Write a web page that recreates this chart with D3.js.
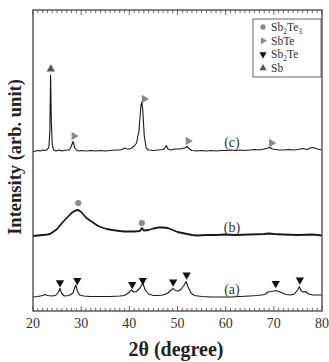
<!DOCTYPE html>
<html>
<head>
<meta charset="utf-8">
<script src="https://cdn.jsdelivr.net/npm/d3@7"></script>
<style>
body { margin: 0; background: #fff; }
</style>
</head>
<body>
<div id="chart"></div>
<script>
// XRD patterns (2theta in degree, intensity in arb. units)
var twoThetaC = [20, 20.5, 21, 21.5, 22, 22.5, 23, 23.3, 23.5, 23.65, 23.8, 24, 24.3, 24.8, 25.5, 26, 26.5, 27, 27.5, 27.9, 28.3, 28.7, 29, 29.5, 30, 31, 32, 33, 34, 35, 36, 37, 38, 38.5, 39, 39.5, 40, 40.5, 41, 41.5, 42, 42.4, 42.6, 42.8, 43.1, 43.5, 44, 45, 46, 47, 47.4, 47.7, 48, 48.5, 49.5, 50.5, 51.5, 52, 52.5, 53, 54, 55, 56, 57, 58, 59, 60, 61, 62, 63, 64, 65, 66, 67, 68, 68.8, 69.2, 69.7, 70.5, 71, 72, 73, 74, 75, 76, 76.5, 77, 77.5, 78, 78.5, 79, 79.5, 80];
var intensityC = [159, 160, 160.5, 160, 161, 160.5, 161.5, 164, 180, 236, 190, 166, 161, 160, 161, 160, 160.5, 161, 161, 164, 169.5, 163, 161, 160, 160.5, 160, 160.5, 160, 160.5, 160, 160.5, 161, 161, 161.5, 163, 162, 162, 163, 165, 168, 180, 205, 209, 200, 175, 163, 161, 160.5, 161, 161.5, 163, 165.5, 162, 161, 162, 162, 163, 164.5, 162, 160.5, 160, 160.5, 160, 160.5, 160, 160.5, 160.5, 161, 160.5, 161, 160.5, 161, 161.5, 161, 162, 163, 163.5, 162, 161.5, 161, 161, 161.5, 161, 161.5, 162.5, 162, 161.5, 163, 163.5, 163, 162, 161.5, 161];

var twoThetaB = [20, 21, 22, 23, 23.5, 24, 25, 26.2, 27, 28, 28.8, 29.4, 30, 31.1, 32, 33.2, 34, 35.3, 36.5, 38, 39, 40, 41, 42.2, 42.6, 43, 44, 45, 46, 47, 48, 49, 50, 51, 52, 53, 54, 56, 58, 60, 62, 65, 68, 69, 70, 72, 75, 78, 80];
var intensityB = [75, 75.5, 76, 76.5, 77, 78.5, 82, 89, 93, 98, 100.5, 101, 99, 93, 90, 86, 84, 82, 81, 80, 79.5, 79.5, 79.5, 80, 83, 80.5, 81, 82.5, 83.5, 83.5, 83, 81, 79, 78, 77, 76, 75.5, 76, 76, 76.5, 76, 76.5, 77, 77.5, 77, 76.5, 76, 76.5, 75.5];

var twoThetaA = [20, 21, 22, 22.5, 23, 24, 24.8, 25.3, 25.6, 25.9, 26.5, 27.5, 28.3, 28.7, 28.9, 29.2, 29.7, 30.5, 32, 34, 36, 38, 39, 39.8, 40.3, 40.5, 40.9, 41.5, 42.2, 42.8, 43.3, 44, 45, 46, 47, 48, 48.7, 49.1, 49.5, 50.2, 50.8, 51.4, 51.8, 52.2, 52.8, 53.5, 55, 57, 59, 61, 63, 65, 66.5, 67.5, 68.3, 68.8, 69.5, 70, 70.4, 71, 71.8, 72.5, 73.5, 74.3, 74.9, 75.3, 75.7, 76.2, 76.6, 77, 78, 79, 80];
var intensityA = [14, 14.5, 15.5, 16.5, 15.5, 15, 16, 19, 22.7, 18, 15, 15.5, 18, 24, 26, 20, 16, 15, 14.5, 14.5, 14.5, 15, 15.5, 18, 20.5, 21, 19, 19.5, 23, 27.7, 21, 17, 15.5, 15.5, 16, 18, 21, 22.7, 20.5, 20, 22, 26, 29.5, 24, 18, 15.5, 14.5, 14, 14, 14, 14.5, 15, 15.5, 16, 17, 19, 19.5, 20, 20.5, 19.5, 18, 16.5, 16, 17, 21, 24.3, 20, 19, 19.5, 17.5, 16, 16, 16];

// phase markers (position, height)
var sb2te3X = [29.4, 42.6];
var sb2te3Y = [108, 88];
var sbteX = [28.5, 43.1, 52.2, 69.5];
var sbteY = [175, 212, 170, 168];
var sb2teX = [25.6, 29.2, 40.6, 42.8, 49.1, 51.9, 70.4, 75.4];
var sb2teY = [28.3, 30.5, 26.5, 30.5, 29, 36, 27.5, 31];
var sbX = [23.7];
var sbY = [242];

var curveLabels = ["(c)", "(b)", "(a)"];
var legendNames = ["Sb2Te3", "SbTe", "Sb2Te", "Sb"];
var xTicks = [20, 30, 40, 50, 60, 70, 80];

var FONT = "'Liberation Serif', 'DejaVu Serif', serif";

var W = 329, H = 362;
var margin = {top: 10, right: 7, bottom: 51, left: 33};
var width = W - margin.left - margin.right,
	height = H - margin.top - margin.bottom;

var svg = d3.select("#chart")
	.append("svg")
	.attr("width", W)
	.attr("height", H)
	.attr("font-family", FONT);

var g = svg.append("g")
	.attr("transform", "translate(" + margin.left + "," + margin.top + ")");

var x = d3.scaleLinear().domain([20, 80]).range([0, width]);
var y = d3.scaleLinear().domain([0, 301]).range([height, 0]);

// minor + major ticks, inward on bottom and top
var minor = d3.range(20, 81, 1);
g.append("g")
	.selectAll("line")
	.data(minor)
	.enter()
	.append("line")
	.attr("x1", function (d) { return x(d); })
	.attr("x2", function (d) { return x(d); })
	.attr("y1", height)
	.attr("y2", function (d) { return height - (d % 10 === 0 ? 5 : 3); })
	.attr("stroke", "#444")
	.attr("stroke-width", 0.8);
g.append("g")
	.selectAll("line")
	.data(minor)
	.enter()
	.append("line")
	.attr("x1", function (d) { return x(d); })
	.attr("x2", function (d) { return x(d); })
	.attr("y1", 0)
	.attr("y2", function (d) { return d % 10 === 0 ? 5 : 3; })
	.attr("stroke", "#444")
	.attr("stroke-width", 0.8);

g.append("g")
	.selectAll("text")
	.data(xTicks)
	.enter()
	.append("text")
	.attr("x", function (d) { return x(d); })
	.attr("y", height + 17)
	.attr("text-anchor", "middle")
	.attr("font-size", 14)
	.attr("fill", "#333")
	.text(function (d) { return d; });

// curves
var line = d3.line()
	.x(function (d) { return x(d[0]); })
	.y(function (d) { return y(d[1]); });

function pairs(xs, ys) {
	return xs.map(function (v, i) { return [v, ys[i]]; });
}

var series = [
	{pts: pairs(twoThetaC, intensityC), w: 1.1},
	{pts: pairs(twoThetaB, intensityB), w: 1.8},
	{pts: pairs(twoThetaA, intensityA), w: 1.1}
];

g.selectAll("path.curve")
	.data(series)
	.enter()
	.append("path")
	.attr("class", "curve")
	.attr("d", function (d) { return line(d.pts); })
	.attr("fill", "none")
	.attr("stroke", "#1a1a1a")
	.attr("stroke-width", function (d) { return d.w; })
	.attr("stroke-linejoin", "round");

// curve labels
var labelY = [169, 84, 22];
g.selectAll("text.lab")
	.data(curveLabels)
	.enter()
	.append("text")
	.attr("class", "lab")
	.attr("x", x(61.3))
	.attr("y", function (d, i) { return y(labelY[i]) + 5; })
	.attr("text-anchor", "middle")
	.attr("font-size", 14)
	.attr("fill", "#333")
	.text(function (d) { return d; });

// marker shapes
function symbolFor(kind, size) {
	return d3.symbol().type(kind === "circle" ? d3.symbolCircle : d3.symbolTriangle).size(size)();
}
function rotFor(kind) {
	return kind === "right" ? 90 : kind === "down" ? 180 : 0;
}

function drawMarkers(xs, ys, kind, color) {
	g.append("g")
		.selectAll("path")
		.data(pairs(xs, ys))
		.enter()
		.append("path")
		.attr("d", symbolFor(kind, 30))
		.attr("transform", function (d) {
			return "translate(" + x(d[0]) + "," + y(d[1]) + ") rotate(" + rotFor(kind) + ")";
		})
		.attr("fill", color);
}

drawMarkers(sb2te3X, sb2te3Y, "circle", "#8a8a8a");
drawMarkers(sbteX, sbteY, "right", "#8a8a8a");
drawMarkers(sb2teX, sb2teY, "down", "#111");
drawMarkers(sbX, sbY, "up", "#555");

// frame
g.append("rect")
	.attr("width", width)
	.attr("height", height)
	.attr("fill", "none")
	.attr("stroke", "#444")
	.attr("stroke-width", 1.3);

// legend
var legend = svg.append("g").attr("transform", "translate(253,19)");
legend.append("rect")
	.attr("width", 68)
	.attr("height", 58)
	.attr("fill", "#fff")
	.attr("stroke", "#555")
	.attr("stroke-width", 0.9);

var legKinds = ["circle", "right", "down", "up"];
var legColors = ["#8a8a8a", "#8a8a8a", "#111", "#555"];
var legSubs = [["Sb", "2", "Te", "3"], ["SbTe"], ["Sb", "2", "Te"], ["Sb"]];

legendNames.forEach(function (name, i) {
	var yy = 8 + i * 13.7;
	legend.append("path")
		.attr("d", symbolFor(legKinds[i], 22))
		.attr("transform", "translate(10," + yy + ") rotate(" + rotFor(legKinds[i]) + ")")
		.attr("fill", legColors[i]);
	var t = legend.append("text")
		.attr("x", 18)
		.attr("y", yy + 4)
		.attr("font-size", 11.5)
		.attr("fill", "#333");
	legSubs[i].forEach(function (part, j) {
		var sub = (j % 2 === 1);
		t.append("tspan")
			.attr("font-size", sub ? 7.5 : 11.5)
			.attr("dy", sub ? 2.5 : (j > 0 ? -2.5 : 0))
			.text(part);
	});
});

// axis titles
svg.append("text")
	.attr("x", 176)
	.attr("y", 356)
	.attr("text-anchor", "middle")
	.attr("font-size", 20)
	.attr("font-weight", "bold")
	.attr("fill", "#222")
	.text("2θ (degree)");

svg.append("text")
	.attr("transform", "translate(21,157) rotate(-90)")
	.attr("text-anchor", "middle")
	.attr("font-size", 18.5)
	.attr("font-weight", "bold")
	.attr("fill", "#222")
	.text("Intensity (arb. unit)");
</script>
</body>
</html>
